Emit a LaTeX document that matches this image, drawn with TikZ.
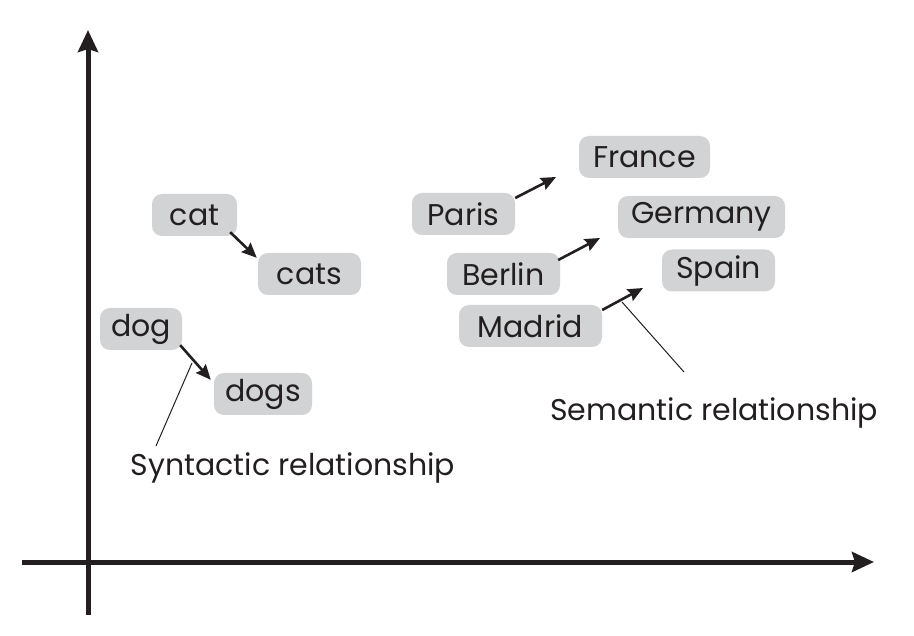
\documentclass[tikz,border=0pt]{standalone}
\usepackage{fontspec}
\setmainfont{Poppins}
\usetikzlibrary{arrows.meta,calc}
\definecolor{ink}{HTML}{231F20}
\definecolor{boxgray}{HTML}{D1D3D4}
\tikzset{
  word/.style={fill=boxgray, rounded corners=10pt, inner sep=0pt, text=ink,
    font=\fontsize{30}{30}\selectfont, minimum height=42pt, anchor=center},
  axis/.style={draw=ink, line width=5pt, -{Stealth[length=22pt,width=20pt,inset=3pt]}},
  rel/.style={draw=ink, line width=2.6pt, -{Stealth[length=15pt,width=13pt,inset=2pt]}},
  callout/.style={draw=ink, line width=1pt},
  label/.style={text=ink, font=\fontsize{30}{30}\selectfont, inner sep=0pt}
}
\begin{document}
\begin{tikzpicture}[x=1pt,y=-1pt]
\useasboundingbox (0,0) rectangle (914,636);
% axes
\coordinate (yb) at (88,615);
\coordinate (yt) at (88,30);
\coordinate (xl) at (22,562);
\coordinate (xr) at (874,562);
\draw[axis] (yb) -- (yt);
\draw[axis] (xl) -- (xr);
% words
\node[word, minimum width=85pt] (cat) at (194.5,215) {cat};
\node[word, minimum width=103pt] (cats) at (309.5,274) {cats};
\node[word, minimum width=82pt] (dog) at (141,329) {dog};
\node[word, minimum width=98pt] (dogs) at (263,394) {dogs};
\node[word, minimum width=103pt] (paris) at (463.5,214) {Paris};
\node[word, minimum width=131pt] (france) at (644.5,157) {France};
\node[word, minimum width=167pt] (germany) at (701.5,217) {Germany};
\node[word, minimum width=113pt] (berlin) at (503.5,274) {Berlin};
\node[word, minimum width=113pt] (spain) at (718.5,270.5) {Spain};
\node[word, minimum width=143pt] (madrid) at (530.5,326) {Madrid};
% relation arrows
\coordinate (fr) at (556,177);
\coordinate (ge) at (600,238);
\coordinate (sp) at (643,288);
\draw[rel] ($(cat.south east)+(-7,-4)$) -- ($(cats.north west)+(-1,5)$);
\draw[rel] ($(dog.south east)+(-2,-5)$) -- ($(dogs.north west)+(-3,7)$);
\draw[rel] ($(paris.east)+(0,-16)$) -- (fr);
\draw[rel] ($(berlin.east)+(-2,-14)$) -- (ge);
\draw[rel] ($(madrid.east)+(0,-16)$) -- (sp);
% labels
\node[label] (syn) at (293,468) {Syntactic relationship};
\node[label] (sem) at (714,413) {Semantic relationship};
\coordinate (synp) at (192,363);
\coordinate (semp) at (622,302);
\draw[callout] (synp) -- (156,446);
\draw[callout] (semp) -- (684,372);
\end{tikzpicture}
\end{document}
